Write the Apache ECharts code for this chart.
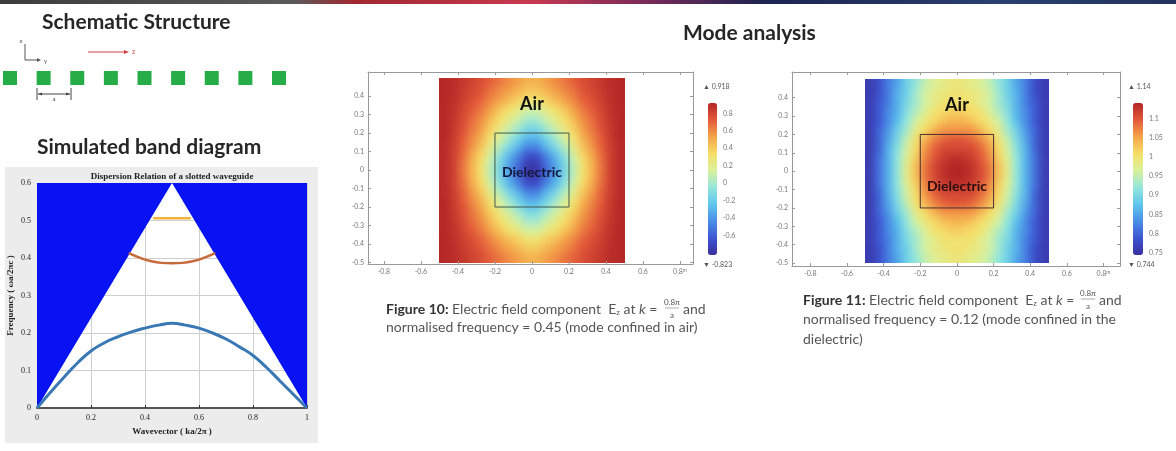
<!DOCTYPE html>
<html><head><meta charset="utf-8">
<script src="https://cdn.jsdelivr.net/npm/echarts@6/dist/echarts.min.js"></script>
<style>
html,body{margin:0;padding:0;background:#fff}
#wrap{position:relative;width:1176px;height:451px}
.clip{position:absolute;overflow:hidden}
.fld{position:absolute;width:1176px;height:451px;filter:url(#sm)}
#c{position:absolute;left:0;top:0;width:1176px;height:451px}
</style>
</head><body>
<svg width="0" height="0" style="position:absolute">
  <filter id="sm" color-interpolation-filters="sRGB">
    <feGaussianBlur stdDeviation="3.5"/>
    <feComponentTransfer><feFuncA type="table" tableValues="0 1 1 1 1 1 1 1 1 1 1 1 1 1 1 1 1 1 1 1"/></feComponentTransfer>
  </filter>
</svg>
<div id="wrap">
  <div class="clip" id="clip10"><div class="fld" id="f10"></div></div>
  <div class="clip" id="clip11"><div class="fld" id="f11"></div></div>
  <div id="c"></div>
</div>
<script>
// ---------- data ----------
const schemCells = [0,1,2,3,4,5,6,7,8];

const lightConeRegions = [
  [[0,0],[0.5,0.6],[0,0.6]],
  [[0.5,0.6],[1,0],[1,0.6]]
];
const band1K = [0,0.05,0.1,0.15,0.2,0.25,0.3,0.35,0.4,0.45,0.5,0.55,0.6,0.65,0.7,0.75,0.8,0.85,0.9,0.95,1];
const band1F = [0,0.042,0.082,0.12,0.152,0.174,0.19,0.203,0.213,0.221,0.226,0.221,0.213,0.2,0.184,0.163,0.14,0.108,0.072,0.036,0];
const band2K = [0.34,0.38,0.42,0.46,0.5,0.54,0.58,0.62,0.66];
const band2F = [0.413,0.401,0.392,0.387,0.386,0.387,0.392,0.401,0.413];
const band3K = [0.43,0.5,0.57];
const band3F = [0.506,0.506,0.506];

const fieldTicksX = [-0.8,-0.6,-0.4,-0.2,0,0.2,0.4,0.6,0.8];
const fieldTicksY = [-0.5,-0.4,-0.3,-0.2,-0.1,0,0.1,0.2,0.3,0.4];
const cellXs = [-0.475,-0.425,-0.375,-0.325,-0.275,-0.225,-0.175,-0.125,-0.075,-0.025,0.025,0.075,0.125,0.175,0.225,0.275,0.325,0.375,0.425,0.475];
const cellYs = [0.475,0.425,0.375,0.325,0.275,0.225,0.175,0.125,0.075,0.025,-0.025,-0.075,-0.125,-0.175,-0.225,-0.275,-0.325,-0.375,-0.425,-0.475];
const dielectricBox = [[-0.2,-0.2],[0.2,-0.2],[0.2,0.2],[-0.2,0.2],[-0.2,-0.2]];

const field10Min = -0.823, field10Max = 0.918;
const cb10Ticks = [-0.6,-0.4,-0.2,0,0.2,0.4,0.6,0.8];
const field10Rows = [
[0.91,0.89,0.85,0.81,0.77,0.71,0.65,0.59,0.54,0.49,0.49,0.54,0.59,0.65,0.71,0.77,0.81,0.85,0.89,0.91],
[0.91,0.89,0.84,0.79,0.74,0.66,0.59,0.53,0.47,0.41,0.41,0.47,0.53,0.59,0.66,0.74,0.79,0.84,0.89,0.91],
[0.91,0.88,0.82,0.76,0.70,0.61,0.53,0.45,0.38,0.30,0.30,0.38,0.45,0.53,0.61,0.70,0.76,0.82,0.88,0.91],
[0.91,0.87,0.80,0.72,0.64,0.53,0.42,0.32,0.23,0.13,0.13,0.23,0.32,0.42,0.53,0.64,0.72,0.80,0.87,0.91],
[0.91,0.86,0.78,0.68,0.59,0.46,0.34,0.22,0.11,0.00,0.00,0.11,0.22,0.34,0.46,0.59,0.68,0.78,0.86,0.91],
[0.91,0.85,0.76,0.65,0.55,0.39,0.25,0.11,-0.01,-0.14,-0.14,-0.01,0.11,0.25,0.39,0.55,0.65,0.76,0.85,0.91],
[0.91,0.84,0.73,0.61,0.49,0.31,0.15,0.00,-0.15,-0.29,-0.29,-0.15,0.00,0.15,0.31,0.49,0.61,0.73,0.84,0.91],
[0.90,0.83,0.71,0.57,0.43,0.23,0.04,-0.13,-0.30,-0.46,-0.46,-0.30,-0.13,0.04,0.23,0.43,0.57,0.71,0.83,0.90],
[0.90,0.82,0.68,0.51,0.36,0.13,-0.09,-0.29,-0.47,-0.67,-0.67,-0.47,-0.29,-0.09,0.13,0.36,0.51,0.68,0.82,0.90],
[0.90,0.82,0.66,0.49,0.32,0.07,-0.15,-0.37,-0.56,-0.77,-0.77,-0.56,-0.37,-0.15,0.07,0.32,0.49,0.66,0.82,0.90],
[0.90,0.82,0.66,0.49,0.32,0.07,-0.15,-0.37,-0.56,-0.77,-0.77,-0.56,-0.37,-0.15,0.07,0.32,0.49,0.66,0.82,0.90],
[0.90,0.82,0.68,0.51,0.36,0.13,-0.09,-0.29,-0.47,-0.67,-0.67,-0.47,-0.29,-0.09,0.13,0.36,0.51,0.68,0.82,0.90],
[0.90,0.83,0.71,0.57,0.43,0.23,0.04,-0.13,-0.30,-0.46,-0.46,-0.30,-0.13,0.04,0.23,0.43,0.57,0.71,0.83,0.90],
[0.91,0.84,0.73,0.61,0.49,0.31,0.15,0.00,-0.15,-0.29,-0.29,-0.15,0.00,0.15,0.31,0.49,0.61,0.73,0.84,0.91],
[0.91,0.85,0.76,0.65,0.55,0.39,0.25,0.11,-0.01,-0.14,-0.14,-0.01,0.11,0.25,0.39,0.55,0.65,0.76,0.85,0.91],
[0.91,0.86,0.78,0.68,0.59,0.46,0.34,0.22,0.11,0.00,0.00,0.11,0.22,0.34,0.46,0.59,0.68,0.78,0.86,0.91],
[0.91,0.87,0.80,0.72,0.64,0.53,0.42,0.32,0.23,0.13,0.13,0.23,0.32,0.42,0.53,0.64,0.72,0.80,0.87,0.91],
[0.91,0.88,0.82,0.76,0.70,0.61,0.53,0.45,0.38,0.30,0.30,0.38,0.45,0.53,0.61,0.70,0.76,0.82,0.88,0.91],
[0.91,0.89,0.84,0.79,0.74,0.66,0.59,0.53,0.47,0.41,0.41,0.47,0.53,0.59,0.66,0.74,0.79,0.84,0.89,0.91],
[0.91,0.89,0.85,0.81,0.77,0.71,0.65,0.59,0.54,0.49,0.49,0.54,0.59,0.65,0.71,0.77,0.81,0.85,0.89,0.91]
];

const field11Min = 0.744, field11Max = 1.14;
const cb11Ticks = [0.75,0.8,0.85,0.9,0.95,1,1.05,1.1];
const field11Rows = [
[0.76,0.78,0.82,0.85,0.89,0.92,0.95,0.97,0.98,0.99,0.99,0.98,0.97,0.95,0.92,0.89,0.85,0.82,0.78,0.76],
[0.76,0.78,0.82,0.86,0.89,0.93,0.96,0.98,0.99,1.00,1.00,0.99,0.98,0.96,0.93,0.89,0.86,0.82,0.78,0.76],
[0.76,0.79,0.82,0.86,0.90,0.93,0.96,0.98,1.00,1.00,1.00,1.00,0.98,0.96,0.93,0.90,0.86,0.82,0.79,0.76],
[0.76,0.79,0.83,0.86,0.91,0.94,0.97,1.00,1.01,1.02,1.02,1.01,1.00,0.97,0.94,0.91,0.86,0.83,0.79,0.76],
[0.76,0.79,0.83,0.87,0.92,0.96,0.99,1.01,1.03,1.04,1.04,1.03,1.01,0.99,0.96,0.92,0.87,0.83,0.79,0.76],
[0.76,0.80,0.84,0.89,0.93,0.98,1.01,1.04,1.06,1.06,1.06,1.06,1.04,1.01,0.98,0.93,0.89,0.84,0.80,0.76],
[0.76,0.80,0.85,0.90,0.95,1.00,1.04,1.07,1.09,1.10,1.10,1.09,1.07,1.04,1.00,0.95,0.90,0.85,0.80,0.76],
[0.76,0.80,0.86,0.91,0.96,1.01,1.06,1.09,1.11,1.11,1.11,1.11,1.09,1.06,1.01,0.96,0.91,0.86,0.80,0.76],
[0.76,0.81,0.86,0.92,0.97,1.02,1.07,1.10,1.12,1.13,1.13,1.12,1.10,1.07,1.02,0.97,0.92,0.86,0.81,0.76],
[0.76,0.81,0.86,0.92,0.98,1.03,1.08,1.11,1.13,1.14,1.14,1.13,1.11,1.08,1.03,0.98,0.92,0.86,0.81,0.76],
[0.76,0.81,0.86,0.92,0.98,1.03,1.08,1.11,1.13,1.14,1.14,1.13,1.11,1.08,1.03,0.98,0.92,0.86,0.81,0.76],
[0.76,0.81,0.86,0.92,0.97,1.02,1.07,1.10,1.12,1.13,1.13,1.12,1.10,1.07,1.02,0.97,0.92,0.86,0.81,0.76],
[0.76,0.80,0.86,0.91,0.96,1.01,1.06,1.09,1.11,1.11,1.11,1.11,1.09,1.06,1.01,0.96,0.91,0.86,0.80,0.76],
[0.76,0.80,0.85,0.90,0.95,1.00,1.04,1.07,1.09,1.10,1.10,1.09,1.07,1.04,1.00,0.95,0.90,0.85,0.80,0.76],
[0.76,0.80,0.84,0.89,0.93,0.98,1.01,1.04,1.06,1.06,1.06,1.06,1.04,1.01,0.98,0.93,0.89,0.84,0.80,0.76],
[0.76,0.79,0.83,0.87,0.92,0.96,0.99,1.01,1.03,1.04,1.04,1.03,1.01,0.99,0.96,0.92,0.87,0.83,0.79,0.76],
[0.76,0.79,0.83,0.86,0.91,0.94,0.97,1.00,1.01,1.02,1.02,1.01,1.00,0.97,0.94,0.91,0.86,0.83,0.79,0.76],
[0.76,0.79,0.82,0.86,0.90,0.93,0.96,0.98,1.00,1.00,1.00,1.00,0.98,0.96,0.93,0.90,0.86,0.82,0.79,0.76],
[0.76,0.78,0.82,0.86,0.89,0.93,0.96,0.98,0.99,1.00,1.00,0.99,0.98,0.96,0.93,0.89,0.86,0.82,0.78,0.76],
[0.76,0.78,0.82,0.85,0.89,0.92,0.95,0.97,0.98,0.99,0.99,0.98,0.97,0.95,0.92,0.89,0.85,0.82,0.78,0.76]
];

// ---------- build ----------
const palette = ['#3a2e9e','#3d56d2','#4a8ee6','#5fc6ec','#94e6dc','#d9f19c','#f6df68','#f4a44a','#e35a3a','#b32626'];
const CELL = 0.05;
function cells(rows){
  const out=[];
  rows.forEach((row,j)=>row.forEach((v,i)=>out.push([cellXs[i],cellYs[j],v])));
  return out;
}
function cellRender(params, api){
  const x=api.value(0), y=api.value(1);
  const p0=api.coord([x-CELL/2,y+CELL/2]);
  const p1=api.coord([x+CELL/2,y-CELL/2]);
  return {type:'rect',shape:{x:p0[0],y:p0[1],width:p1[0]-p0[0]+0.6,height:p1[1]-p0[1]+0.6},style:{fill:api.visual('color')}};
}
const pairs=(a,b)=>a.map((v,i)=>[v,b[i]]);
const fmt=v=>String(+v.toFixed(2));

const SERIF='"Liberation Serif","DejaVu Serif",serif';
const SANS='Lato,"Open Sans",sans-serif';
const fieldLabel={fontSize:7,color:'#777',fontFamily:SANS,margin:4};

const f10Grid={left:368,top:72,width:325,height:192};
const f11Grid={left:792,top:72,width:328,height:194};
const f10X=[-0.886,0.87], f10Y=[-0.508,0.53];
const f11X=[-0.9,0.89], f11Y=[-0.516,0.54];

function fieldX(grid,r,pos){
  return {gridIndex:grid,type:'value',min:r[0],max:r[1],position:pos,
    axisLine:{show:true,onZero:false,lineStyle:{color:'#999',width:1}},
    axisTick:{show:true,inside:true,length:3,customValues:fieldTicksX,lineStyle:{color:'#999'}},
    axisLabel:pos==='bottom'?Object.assign({customValues:fieldTicksX,formatter:v=>fmt(v)+(Math.abs(v-0.8)<1e-6?'{u|m}':''),rich:{u:{fontSize:5,color:'#777',verticalAlign:'top'}}},fieldLabel):{show:false},
    splitLine:{show:false}};
}
function fieldY(grid,r,pos){
  return {gridIndex:grid,type:'value',min:r[0],max:r[1],position:pos,
    axisLine:{show:true,onZero:false,lineStyle:{color:'#999',width:1}},
    axisTick:{show:true,inside:true,length:3,customValues:fieldTicksY,lineStyle:{color:'#999'}},
    axisLabel:pos==='left'?Object.assign({customValues:fieldTicksY,formatter:fmt},fieldLabel):{show:false},
    splitLine:{show:false}};
}
function cbAxis(grid,min,max,ticks){
  return {gridIndex:grid,type:'value',min,max,position:'right',
    axisLine:{show:false},axisTick:{show:false},splitLine:{show:false},
    axisLabel:{customValues:ticks,formatter:fmt,fontSize:7,color:'#777',fontFamily:SANS,margin:6}};
}
const hiddenX=g=>({gridIndex:g,type:'value',show:false,min:0,max:1});

const t=(text,x,y,font,fill,align,extra)=>Object.assign({type:'text',z:100,style:{text,x,y,font,fill:fill||'#222',textAlign:align||'left',textVerticalAlign:'middle'}},extra||{});
const TITLE='bold 21px Lato';
const CAP='14px Lato';

const graphic=[
  {type:'rect',z:-1,shape:{x:0,y:0,width:1176,height:4},style:{fill:new echarts.graphic.LinearGradient(0,0,1,0,[
    {offset:0,color:'#3c3c3c'},{offset:0.25,color:'#5a5a5a'},{offset:0.3,color:'#a02830'},{offset:0.45,color:'#c83a50'},
    {offset:0.55,color:'#7a2a5a'},{offset:0.65,color:'#1c2450'},{offset:0.85,color:'#2a4070'},{offset:1,color:'#22345c'}])}},
  {type:'rect',z:-1,shape:{x:5,y:167,width:313,height:276},style:{fill:'#ececec'}},
  t('Schematic Structure',42,22,TITLE,'#262626'),
  t('Simulated band diagram',37,147,TITLE,'#262626'),
  t('Mode analysis',683,33,TITLE,'#262626'),
  // schematic decorations
  {type:'line',z:100,shape:{x1:25,y1:44,x2:25,y2:60},style:{stroke:'#555',lineWidth:1}},
  {type:'line',z:100,shape:{x1:25,y1:60,x2:37,y2:60},style:{stroke:'#555',lineWidth:1}},
  {type:'polygon',z:100,shape:{points:[[37,58],[41,60],[37,62]]},style:{fill:'#555'}},
  t('x',21,41,'6px Lato','#555','center'),
  t('y',44,61,'6px Lato','#555','left'),
  {type:'line',z:100,shape:{x1:88,y1:52,x2:125,y2:52},style:{stroke:'#d04040',lineWidth:1}},
  {type:'polygon',z:100,shape:{points:[[124,50],[129,52],[124,54]]},style:{fill:'#d04040'}},
  t('z',132,52,'7px Lato','#d04040','left'),
  {type:'line',z:100,shape:{x1:37,y1:88,x2:37,y2:100},style:{stroke:'#444',lineWidth:1}},
  {type:'line',z:100,shape:{x1:71,y1:88,x2:71,y2:100},style:{stroke:'#444',lineWidth:1}},
  {type:'line',z:100,shape:{x1:38,y1:94,x2:70,y2:94},style:{stroke:'#444',lineWidth:1}},
  {type:'polygon',z:100,shape:{points:[[38,94],[42,92.5],[42,95.5]]},style:{fill:'#444'}},
  {type:'polygon',z:100,shape:{points:[[70,94],[66,92.5],[66,95.5]]},style:{fill:'#444'}},
  t('a',54,99,'6px Lato','#444','center'),
  // band diagram title
  t('Dispersion Relation of a slotted waveguide',172,177,'bold 9px "Liberation Serif"','#222','center'),
  // field labels
  t('Air',532,104,'bold 18px Lato','#111','center'),
  t('Dielectric',532,172,'bold 14px Lato','#14183c','center'),
  t('Air',957,105,'bold 18px Lato','#111','center'),
  t('Dielectric',957,186,'bold 14px Lato','#2a0f0f','center'),
  // colour bar extremes
  t('\u25B2 '+field10Max,703,87,'7px Lato','#555','left'),
  t('\u25BC '+field10Min,703,265,'7px Lato','#555','left'),
  t('\u25B2 '+field11Max,1128,87,'7px Lato','#555','left'),
  t('\u25BC '+field11Min,1128,265,'7px Lato','#555','left'),
];
function caption(x,y,num,fracX,rest,gap){
  const rich={b:{fontWeight:'bold',fill:'#333',fontSize:14,fontFamily:'Lato'},s:{fontSize:8,fill:'#555',fontFamily:'Lato',verticalAlign:'bottom',padding:[7,0,0,0]},i:{fontStyle:'italic',fill:'#555',fontSize:14,fontFamily:'Lato'}};
  graphic.push({type:'text',z:100,style:{text:'{b|Figure '+num+':} Electric field component  E{s|z} at {i|k} =',rich,x,y,font:CAP,fill:'#555',textVerticalAlign:'middle'}});
  graphic.push(t('0.8\u03C0',fracX,y-7,'8px Lato','#555','center'));
  graphic.push({type:'line',z:100,shape:{x1:fracX-7,y1:y-1,x2:fracX+7,y2:y-1},style:{stroke:'#777',lineWidth:0.6}});
  graphic.push(t('a',fracX,y+6,'8px Lato','#555','center'));
  graphic.push(t('and',fracX+11,y,CAP,'#555','left'));
  rest.forEach((s,k)=>graphic.push(t(s,x,y+(k+1)*gap,CAP,'#555','left')));
}
caption(386,309,10,672,['normalised frequency = 0.45 (mode confined in air)'],18);
caption(803,300,11,1088,['normalised frequency = 0.12 (mode confined in the','dielectric)'],19.5);

const option={
  animation:false,
  backgroundColor:'transparent',
  grid:[
    {left:10,top:71,width:269,height:14},
    {left:37,top:183,width:270,height:225,show:true,backgroundColor:'#fff',borderWidth:0},
    f10Grid, f11Grid,
    {left:708,top:103,width:9,height:152},
    {left:1133,top:103,width:10,height:152}
  ],
  xAxis:[
    {gridIndex:0,type:'value',show:false,min:0,max:8},
    {gridIndex:1,type:'value',min:0,max:1,interval:0.2,
      name:'Wavevector ( ka/2\u03C0 )',nameLocation:'middle',nameGap:19,nameTextStyle:{fontFamily:SERIF,fontSize:9,color:'#222',fontWeight:'bold'},
      axisLine:{lineStyle:{color:'#555',width:2}},axisTick:{inside:true,length:3,lineStyle:{color:'#333'}},
      axisLabel:{fontFamily:SERIF,fontSize:8,color:'#222',margin:6},
      splitLine:{show:true,lineStyle:{color:'#cfcfcf',width:1}}},
    fieldX(2,f10X,'bottom'),
    fieldX(2,f10X,'top'),
    fieldX(3,f11X,'bottom'),
    fieldX(3,f11X,'top'),
    hiddenX(4), hiddenX(5)
  ],
  yAxis:[
    {gridIndex:0,type:'value',show:false,min:0,max:1},
    {gridIndex:1,type:'value',min:0,max:0.6,interval:0.1,
      name:'Frequency ( \u03C9a/2\u03C0c )',nameLocation:'middle',nameGap:22,nameTextStyle:{fontFamily:SERIF,fontSize:9,color:'#222',fontWeight:'bold'},
      axisLine:{show:false},axisTick:{show:false},
      axisLabel:{fontFamily:SERIF,fontSize:8,color:'#222',margin:6},
      splitLine:{show:true,lineStyle:{color:'#cfcfcf',width:1}}},
    fieldY(2,f10Y,'left'),
    fieldY(2,f10Y,'right'),
    fieldY(3,f11Y,'left'),
    fieldY(3,f11Y,'right'),
    cbAxis(4,field10Min,field10Max,cb10Ticks),
    cbAxis(5,field11Min,field11Max,cb11Ticks)
  ],
  visualMap:[
    {type:'continuous',seriesIndex:[],dimension:2,min:field10Min,max:field10Max,inRange:{color:palette},
      left:708,top:103,itemWidth:9,itemHeight:152,padding:0,calculable:false,hoverLink:false},
    {type:'continuous',seriesIndex:[],dimension:2,min:field11Min,max:field11Max,inRange:{color:palette},
      left:1133,top:103,itemWidth:10,itemHeight:152,padding:0,calculable:false,hoverLink:false}
  ],
  series:[
    {type:'scatter',xAxisIndex:0,yAxisIndex:0,data:schemCells.map(c=>[c,0.5]),symbol:'rect',symbolSize:14,itemStyle:{color:'#27ad47',opacity:1},silent:true},
    {type:'custom',xAxisIndex:1,yAxisIndex:1,data:lightConeRegions.map((r,i)=>[i]),silent:true,z:3,
      renderItem:(p,api)=>({type:'polygon',shape:{points:lightConeRegions[p.dataIndex].map(pt=>api.coord(pt))},style:{fill:'#0812f2'}})},
    {type:'line',xAxisIndex:1,yAxisIndex:1,data:pairs(band1K,band1F),smooth:true,symbol:'none',lineStyle:{color:'#3a78b5',width:3},z:4},
    {type:'line',xAxisIndex:1,yAxisIndex:1,data:pairs(band2K,band2F),smooth:true,symbol:'none',lineStyle:{color:'#c8693c',width:2.5},z:4},
    {type:'line',xAxisIndex:1,yAxisIndex:1,data:pairs(band3K,band3F),smooth:true,symbol:'none',lineStyle:{color:'#f0b43c',width:2.5},z:4},
    {type:'line',xAxisIndex:2,yAxisIndex:2,data:dielectricBox,symbol:'none',lineStyle:{color:'#3e5a50',width:1},z:5,silent:true},
    {type:'line',xAxisIndex:4,yAxisIndex:4,data:dielectricBox,symbol:'none',lineStyle:{color:'#4a3030',width:1},z:5,silent:true}
  ],
  graphic
};
const chart=echarts.init(document.getElementById('c'),null,{renderer:'canvas'});
chart.setOption(option);

// field maps: drawn by ECharts on the same grid/axes, shown under the main layer
function fieldChart(divId,clipId,grid,xr,yr,rows,min,max,axisIdx){
  const c=echarts.init(document.getElementById(divId),null,{renderer:'canvas'});
  c.setOption({animation:false,backgroundColor:'transparent',
    grid:[grid],
    xAxis:[{type:'value',min:xr[0],max:xr[1],show:false}],
    yAxis:[{type:'value',min:yr[0],max:yr[1],show:false}],
    visualMap:[{type:'continuous',show:false,dimension:2,min,max,inRange:{color:palette}}],
    series:[{type:'custom',data:cells(rows),renderItem:cellRender,silent:true,encode:{x:0,y:1}}]});
  const xs=cellXs, ys=cellYs;
  const a=chart.convertToPixel({xAxisIndex:axisIdx,yAxisIndex:axisIdx},[xs[0]-CELL/2,ys[0]+CELL/2]);
  const b=chart.convertToPixel({xAxisIndex:axisIdx,yAxisIndex:axisIdx},[xs[xs.length-1]+CELL/2,ys[ys.length-1]-CELL/2]);
  const clip=document.getElementById(clipId);
  clip.style.left=a[0]+'px'; clip.style.top=a[1]+'px';
  clip.style.width=(b[0]-a[0])+'px'; clip.style.height=(b[1]-a[1])+'px';
  const d=document.getElementById(divId);
  d.style.left=(-a[0])+'px'; d.style.top=(-a[1])+'px';
}
fieldChart('f10','clip10',f10Grid,f10X,f10Y,field10Rows,field10Min,field10Max,2);
fieldChart('f11','clip11',f11Grid,f11X,f11Y,field11Rows,field11Min,field11Max,4);
</script></body></html>
